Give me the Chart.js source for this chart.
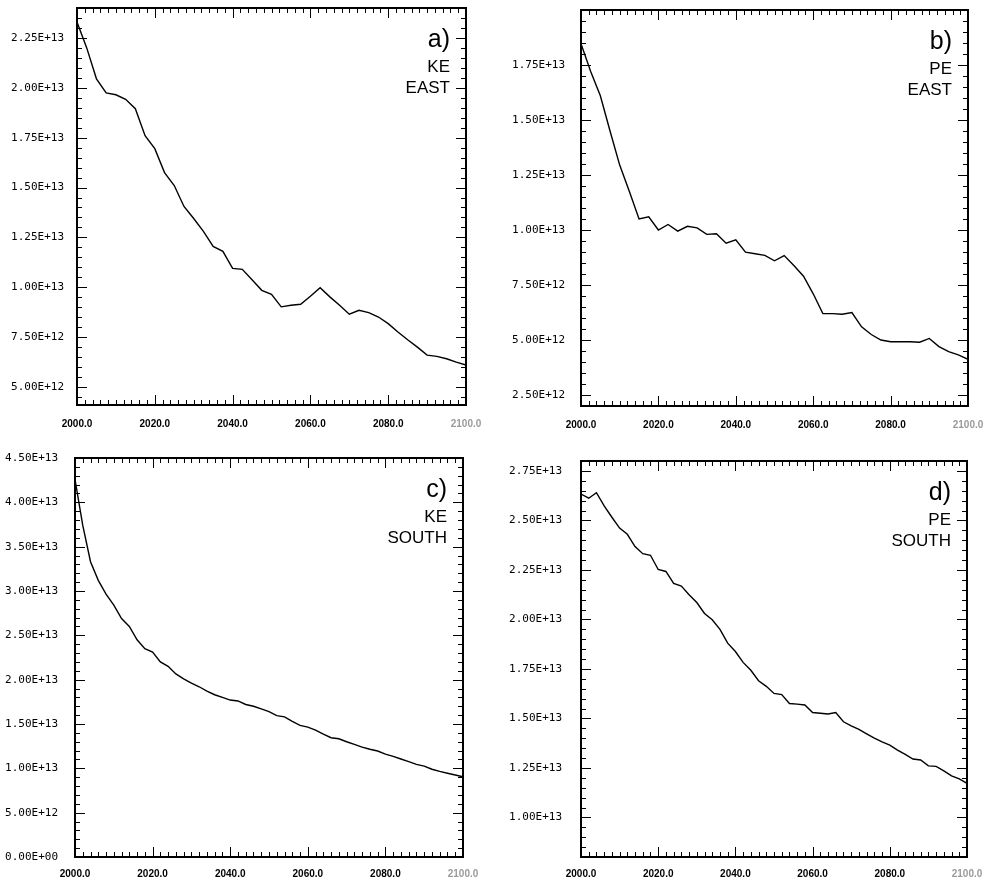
<!DOCTYPE html>
<html>
<head>
<meta charset="utf-8">
<script src="https://cdn.jsdelivr.net/npm/chart.js@4/dist/chart.umd.min.js"></script>
<style>
  body { margin: 0; background: #fff; }
  .panel { position: absolute; }
</style>
</head>
<body>
<div class="panel" style="left:0;top:0;width:494px;height:440px"><canvas id="keEastChart"></canvas></div>
<div class="panel" style="left:494px;top:0;width:494px;height:440px"><canvas id="peEastChart"></canvas></div>
<div class="panel" style="left:0;top:440px;width:494px;height:441px"><canvas id="keSouthChart"></canvas></div>
<div class="panel" style="left:494px;top:440px;width:494px;height:441px"><canvas id="peSouthChart"></canvas></div>
<script>
// years of the east-region runs (panels a, b)
const yearsEast = [2000, 2002.5, 2005, 2007.5, 2010, 2012.5, 2015, 2017.5, 2020, 2022.5,
  2025, 2027.5, 2030, 2032.5, 2035, 2037.5, 2040, 2042.5, 2045, 2047.5,
  2050, 2052.5, 2055, 2057.5, 2060, 2062.5, 2065, 2067.5, 2070, 2072.5,
  2075, 2077.5, 2080, 2082.5, 2085, 2087.5, 2090, 2092.5, 2095, 2097.5, 2100];

// years of the south-region runs (panels c, d)
const yearsSouth = [2000, 2002, 2004, 2006, 2008, 2010, 2012, 2014, 2016, 2018,
  2020, 2022, 2024, 2026, 2028, 2030, 2032, 2034, 2036, 2038,
  2040, 2042, 2044, 2046, 2048, 2050, 2052, 2054, 2056, 2058,
  2060, 2062, 2064, 2066, 2068, 2070, 2072, 2074, 2076, 2078,
  2080, 2082, 2084, 2086, 2088, 2090, 2092, 2094, 2096, 2098, 2100];

const keEast = [23.3e12, 22.0e12, 20.45e12, 19.74e12, 19.65e12, 19.42e12, 18.95e12, 17.6e12, 16.95e12, 15.75e12,
  15.1e12, 14.05e12, 13.45e12, 12.8e12, 12.05e12, 11.8e12, 10.95e12, 10.9e12, 10.38e12, 9.85e12,
  9.65e12, 9.02e12, 9.1e12, 9.15e12, 9.55e12, 9.98e12, 9.52e12, 9.1e12, 8.65e12, 8.85e12,
  8.73e12, 8.51e12, 8.18e12, 7.76e12, 7.37e12, 7.0e12, 6.6e12, 6.54e12, 6.42e12, 6.25e12, 6.1e12];

const peEast = [18.47e12, 17.2e12, 16.1e12, 14.5e12, 12.95e12, 11.75e12, 10.5e12, 10.6e12, 10.0e12, 10.25e12,
  9.95e12, 10.17e12, 10.1e12, 9.8e12, 9.83e12, 9.4e12, 9.55e12, 8.99e12, 8.92e12, 8.85e12,
  8.6e12, 8.84e12, 8.39e12, 7.9e12, 7.1e12, 6.2e12, 6.2e12, 6.17e12, 6.25e12, 5.6e12,
  5.25e12, 5.0e12, 4.92e12, 4.92e12, 4.92e12, 4.9e12, 5.07e12, 4.7e12, 4.47e12, 4.32e12, 4.12e12];

const keSouth = [42.6e12, 37.4e12, 33.3e12, 31.2e12, 29.65e12, 28.4e12, 26.9e12, 26.0e12, 24.5e12, 23.5e12,
  23.1e12, 22.0e12, 21.5e12, 20.65e12, 20.1e12, 19.6e12, 19.2e12, 18.7e12, 18.3e12, 18.0e12,
  17.7e12, 17.6e12, 17.2e12, 17.0e12, 16.7e12, 16.4e12, 15.95e12, 15.8e12, 15.3e12, 14.85e12,
  14.65e12, 14.3e12, 13.85e12, 13.45e12, 13.33e12, 13.0e12, 12.7e12, 12.4e12, 12.15e12, 11.95e12,
  11.6e12, 11.35e12, 11.05e12, 10.75e12, 10.45e12, 10.25e12, 9.9e12, 9.65e12, 9.45e12, 9.25e12, 9.05e12];

const peSouth = [26.33e12, 26.12e12, 26.4e12, 25.73e12, 25.16e12, 24.61e12, 24.3e12, 23.68e12, 23.32e12, 23.24e12,
  22.52e12, 22.42e12, 21.82e12, 21.68e12, 21.25e12, 20.85e12, 20.3e12, 19.98e12, 19.5e12, 18.8e12,
  18.38e12, 17.83e12, 17.43e12, 16.9e12, 16.62e12, 16.26e12, 16.2e12, 15.75e12, 15.72e12, 15.68e12,
  15.3e12, 15.26e12, 15.22e12, 15.3e12, 14.83e12, 14.62e12, 14.45e12, 14.22e12, 14.0e12, 13.81e12,
  13.65e12, 13.4e12, 13.18e12, 12.95e12, 12.9e12, 12.6e12, 12.58e12, 12.35e12, 12.1e12, 11.95e12, 11.72e12];

// tick labels
const xTicks = [2000, 2020, 2040, 2060, 2080, 2100];
const yTicksKeEast = [5e12, 7.5e12, 10e12, 12.5e12, 15e12, 17.5e12, 20e12, 22.5e12];
const yTicksPeEast = [2.5e12, 5e12, 7.5e12, 10e12, 12.5e12, 15e12, 17.5e12];
const yTicksKeSouth = [0, 5e12, 10e12, 15e12, 20e12, 25e12, 30e12, 35e12, 40e12, 45e12];
const yTicksPeSouth = [10e12, 12.5e12, 15e12, 17.5e12, 20e12, 22.5e12, 25e12, 27.5e12];

function sci(v) {
  if (v === 0) return '0.00E+00';
  const e = Math.floor(Math.log10(Math.abs(v)) + 1e-9);
  const m = v / Math.pow(10, e);
  return m.toFixed(2) + 'E' + (e < 0 ? '-' : '+') + String(Math.abs(e)).padStart(2, '0');
}

// frame, inward tick marks and the panel tag
const framePlugin = {
  id: 'framePlugin',
  afterDraw(chart, args, opts) {
    const { ctx, chartArea: a, scales: { x, y } } = chart;
    ctx.save();
    ctx.strokeStyle = '#000';
    ctx.lineWidth = 1;
    ctx.beginPath();
    for (let k = Math.ceil(x.min / 2); k <= Math.floor(x.max / 2); k++) {
      const px = Math.round(x.getPixelForValue(k * 2)) + 0.5;
      const len = k % 10 === 0 ? 10 : 5;
      ctx.moveTo(px, a.bottom); ctx.lineTo(px, a.bottom - len);
      ctx.moveTo(px, a.top); ctx.lineTo(px, a.top + len);
    }
    const st = opts.yMinor;
    for (let k = Math.ceil(y.min / st - 1e-6); k <= Math.floor(y.max / st + 1e-6); k++) {
      const py = Math.round(y.getPixelForValue(k * st)) + 0.5;
      const len = k % 5 === 0 ? 10 : 5;
      ctx.moveTo(a.left, py); ctx.lineTo(a.left + len, py);
      ctx.moveTo(a.right, py); ctx.lineTo(a.right - len, py);
    }
    ctx.stroke();
    ctx.lineWidth = 2;
    ctx.strokeRect(a.left, a.top, a.right - a.left, a.bottom - a.top);

    ctx.fillStyle = '#000';
    ctx.textAlign = 'right';
    ctx.textBaseline = 'middle';
    const rx = a.right - 16;
    ctx.font = '25px "Liberation Sans", Arial, sans-serif';
    ctx.fillText(opts.tag[0], rx, a.top + 32);
    ctx.font = '17px "Liberation Sans", Arial, sans-serif';
    ctx.fillText(opts.tag[1], rx, a.top + 59);
    ctx.fillText(opts.tag[2], rx, a.top + 80);
    ctx.restore();
  }
};

function noPad(s) {
  s.paddingTop = 0; s.paddingBottom = 0; s.paddingLeft = 0; s.paddingRight = 0;
}

function makePanel(id, years, values, p) {
  const points = years.map((yr, i) => ({ x: yr, y: values[i] }));
  return new Chart(document.getElementById(id), {
    type: 'line',
    data: {
      datasets: [{
        data: points,
        borderColor: '#000',
        borderWidth: 1.4,
        pointRadius: 0,
        tension: 0,
        fill: false
      }]
    },
    options: {
      responsive: true,
      maintainAspectRatio: false,
      animation: false,
      layout: { padding: { left: 0, right: p.padRight, top: p.padTop, bottom: 0 } },
      plugins: {
        legend: { display: false },
        tooltip: { enabled: false },
        framePlugin: { yMinor: p.yMinor, tag: p.tag }
      },
      scales: {
        x: {
          type: 'linear',
          min: 2000,
          max: 2100,
          grid: { display: false, drawTicks: false },
          border: { display: false },
          afterBuildTicks: (s) => { s.ticks = xTicks.map(v => ({ value: v })); },
          afterFit: (s) => { s.height = p.xHeight; noPad(s); },
          ticks: {
            padding: p.xPad,
            maxRotation: 0,
            autoSkip: false,
            color: (c) => c.tick && c.tick.value === 2100 ? '#9a9a9a' : '#000',
            font: { family: '"Liberation Sans", Arial, sans-serif', size: 10, weight: 'bold' },
            callback: (v) => Number(v).toFixed(1)
          }
        },
        y: {
          type: 'linear',
          min: p.yMin,
          max: p.yMax,
          grid: { display: false, drawTicks: false },
          border: { display: false },
          afterBuildTicks: (s) => { s.ticks = p.yTicks.map(v => ({ value: v })); },
          afterFit: (s) => { s.width = p.yWidth; noPad(s); },
          ticks: {
            padding: p.yPad,
            autoSkip: false,
            color: '#000',
            font: { family: '"DejaVu Sans Mono", monospace', size: 11 },
            callback: (v) => sci(v)
          }
        }
      }
    },
    plugins: [framePlugin]
  });
}

makePanel('keEastChart', yearsEast, keEast, {
  yMin: 4.1e12, yMax: 24e12, yTicks: yTicksKeEast, yMinor: 0.5e12, tag: ['a)', 'KE', 'EAST'],
  padRight: 28, padTop: 8, xHeight: 35, yWidth: 77, xPad: 13, yPad: 13
});
makePanel('peEastChart', yearsEast, peEast, {
  yMin: 2e12, yMax: 20e12, yTicks: yTicksPeEast, yMinor: 0.5e12, tag: ['b)', 'PE', 'EAST'],
  padRight: 20, padTop: 10, xHeight: 34, yWidth: 87, xPad: 13, yPad: 16
});
makePanel('keSouthChart', yearsSouth, keSouth, {
  yMin: 0, yMax: 45e12, yTicks: yTicksKeSouth, yMinor: 1e12, tag: ['c)', 'KE', 'SOUTH'],
  padRight: 31, padTop: 18, xHeight: 24, yWidth: 75, xPad: 11, yPad: 17
});
makePanel('peSouthChart', yearsSouth, peSouth, {
  yMin: 8e12, yMax: 28e12, yTicks: yTicksPeSouth, yMinor: 0.5e12, tag: ['d)', 'PE', 'SOUTH'],
  padRight: 21, padTop: 21, xHeight: 24, yWidth: 87, xPad: 11, yPad: 19
});
</script>
</body>
</html>
